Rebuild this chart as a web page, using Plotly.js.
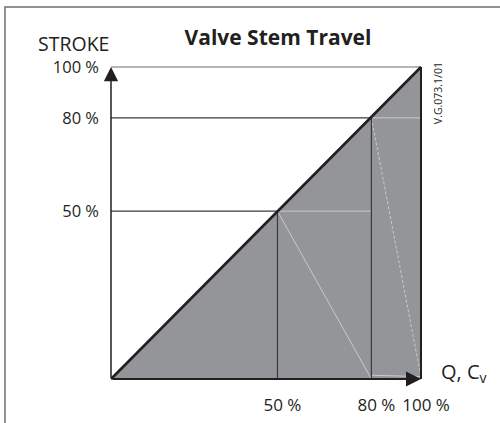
<!DOCTYPE html>
<html>
<head>
<meta charset="utf-8">
<script src="https://cdn.plot.ly/plotly-3.0.1.min.js"></script>
<style>html,body{margin:0;padding:0;background:#fff;}#chart{width:500px;height:423px;}</style>
</head>
<body>
<div id="chart"></div>
<script>
// Schematic marks (labels and their drawn positions on the diagram, in % of axis length)
const markLabels = ['50 %', '80 %', '100 %'];
const flowPos = [53.7, 84, 100];     // Q, Cv axis positions of 50 %, 80 %, 100 %
const strokePos = [53.8, 83.7, 100]; // STROKE axis positions of 50 %, 80 %, 100 %
const chartTitle = 'Valve Stem Travel';
const yAxisName = 'STROKE';
const xAxisName = 'Q, C<sub>v</sub>';
const refCode = 'V.G.073.1/01';

const [x50, x80, x100] = flowPos;
const [y50, y80, y100] = strokePos;
const dark = '#231f20';
const light = '#c9cacc';
const FONT = 'Open Sans, sans-serif';

const traces = [
  { // shaded region under the characteristic
    x: [0, x100, x100, 0], y: [0, 0, y100, 0],
    mode: 'lines', fill: 'toself', fillcolor: '#939598',
    line: {width: 0}, hoverinfo: 'skip'
  },
  { // light construction lines inside the shaded area
    x: [x50, x80, null, x80, x100, null, x50, x80, null, x80, x100],
    y: [y50, y50, null, y80, y80, null, y50, 0, null, 1.2, 0.8],
    mode: 'lines', line: {color: light, width: 1}, hoverinfo: 'skip'
  },
  { // dashed light line
    x: [x80, x100], y: [y80, 0.6],
    mode: 'lines', line: {color: light, width: 1, dash: '3px,2px'}, hoverinfo: 'skip'
  },
  { // guide lines for 50 % and 80 %
    x: [0, x80, x80, null, 0, x50, x50],
    y: [y80, y80, 0, null, y50, y50, 0],
    mode: 'lines', line: {color: '#3a3a3c', width: 1.2}, hoverinfo: 'skip'
  },
  { // top line at 100 %
    x: [0, x100], y: [y100, y100],
    mode: 'lines', line: {color: '#6d6e71', width: 1.2}, hoverinfo: 'skip'
  },
  { // right edge at 100 %
    x: [x100, x100], y: [0, y100],
    mode: 'lines', line: {color: dark, width: 2}, hoverinfo: 'skip'
  },
  { // linear characteristic
    x: [0, x100], y: [0, y100],
    mode: 'lines', line: {color: dark, width: 2.6}, hoverinfo: 'skip'
  }
];

const layout = {
  width: 500, height: 423,
  margin: {l: 101, r: 59, t: 57, b: 34, pad: 0},
  paper_bgcolor: '#fff', plot_bgcolor: 'rgba(0,0,0,0)',
  showlegend: false,
  font: {family: FONT, color: dark},
  title: {
    text: '<b>' + chartTitle + '</b>',
    font: {family: FONT, size: 21, color: dark},
    xref: 'container', yref: 'container', x: 0.556, y: 0.91,
    xanchor: 'center', yanchor: 'middle'
  },
  xaxis: {
    range: [-3.226, 106.45], fixedrange: true,
    showgrid: false, zeroline: false, showline: false, ticks: '',
    tickmode: 'array', tickvals: flowPos, ticktext: markLabels,
    ticklabelshift: 5, ticklabelstandoff: 4,
    tickfont: {size: 17, color: dark, family: FONT}
  },
  yaxis: {
    range: [-3.205, 103.205], fixedrange: true,
    showgrid: false, zeroline: false, showline: false, ticks: '',
    tickmode: 'array', tickvals: strokePos, ticktext: markLabels,
    ticklabelshift: 0, ticklabelstandoff: 1,
    tickfont: {size: 16.5, color: dark, family: FONT}
  },
  shapes: [
    { type: 'rect', xref: 'paper', yref: 'paper',
      x0: -0.2824, x1: 1.2, y0: -0.14, y1: 1.1506,
      line: {color: '#6d6e71', width: 1.5}, fillcolor: 'rgba(0,0,0,0)', layer: 'below' }
  ],
  annotations: [
    { // STROKE axis with arrow
      x: 0, y: y100, ax: 0, ay: 0, xref: 'x', yref: 'y', axref: 'x', ayref: 'y',
      text: '', showarrow: true, arrowhead: 2, arrowsize: 1.9, arrowwidth: 1.5, arrowcolor: dark
    },
    { // Q, Cv axis with arrow
      x: x100, y: 0, ax: 0, ay: 0, xref: 'x', yref: 'y', axref: 'x', ayref: 'y',
      text: '', showarrow: true, arrowhead: 2, arrowsize: 1.5, arrowwidth: 2, arrowcolor: dark
    },
    { text: yAxisName, xref: 'paper', yref: 'paper', x: 0.0294, y: 1.042,
      xanchor: 'right', yanchor: 'middle', showarrow: false,
      font: {size: 19.5, color: dark, family: FONT} },
    { text: xAxisName, xref: 'paper', yref: 'paper', x: 0.994, y: 0.05,
      xanchor: 'left', yanchor: 'middle', showarrow: false,
      font: {size: 20, color: dark, family: FONT} },
    { text: refCode, xref: 'paper', yref: 'paper', x: 0.991, y: 0.891,
      xanchor: 'center', yanchor: 'middle', textangle: -90, showarrow: false,
      font: {size: 10.5, color: dark, family: FONT} }
  ]
};

Plotly.newPlot('chart', traces, layout, {displayModeBar: false, staticPlot: true});
</script>
</body>
</html>
